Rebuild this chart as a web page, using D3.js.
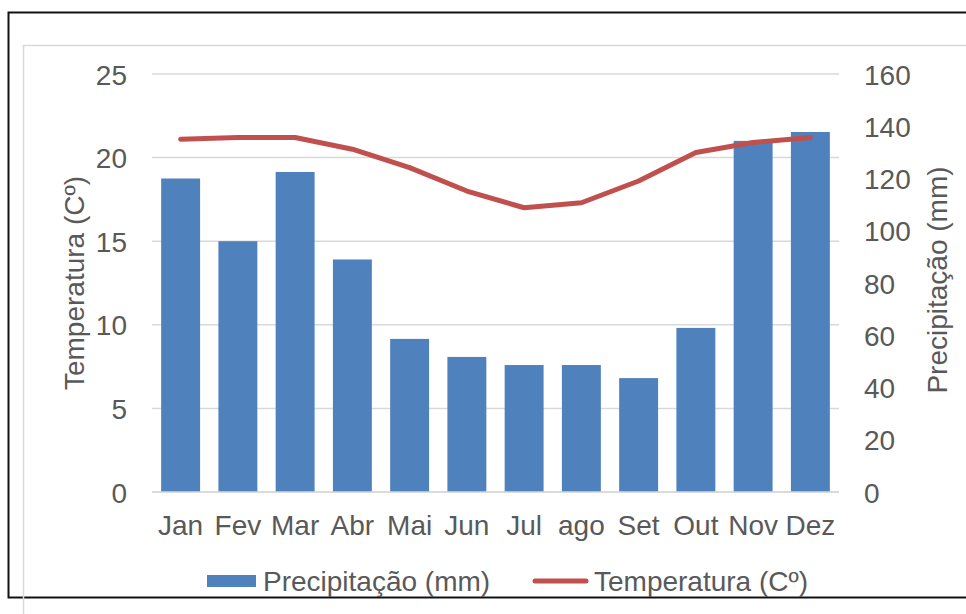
<!DOCTYPE html>
<html>
<head>
<meta charset="utf-8">
<script src="https://cdn.jsdelivr.net/npm/d3@7/dist/d3.min.js"></script>
<style>
  html, body { margin: 0; padding: 0; background: #fff; }
  svg { display: block; }
  text { font-family: "Liberation Sans", Arial, sans-serif; fill: #595959; }
</style>
</head>
<body>
<svg id="chart" width="966" height="614"></svg>
<script>
const months = ["Jan", "Fev", "Mar", "Abr", "Mai", "Jun", "Jul", "ago", "Set", "Out", "Nov", "Dez"];
const precipitacao = [120, 96, 122.5, 89, 58.6, 51.7, 48.6, 48.6, 43.6, 62.8, 134.4, 137.8];
const temperatura = [21.1, 21.2, 21.2, 20.5, 19.4, 18.0, 17.0, 17.3, 18.6, 20.3, 20.9, 21.2];
const tempTicks = [0, 5, 10, 15, 20, 25];
const precTicks = [0, 20, 40, 60, 80, 100, 120, 140, 160];
const leftTitle = "Temperatura (Cº)";
const rightTitle = "Precipitação (mm)";
const legendLabels = ["Precipitação (mm)", "Temperatura (Cº)"];

const barColor = "#4F81BD";
const lineColor = "#C0504D";
const gridColor = "#D9D9D9";
const fs = 28;

const svg = d3.select("#chart");

// outer black frame
svg.append("rect").attr("x", 8.5).attr("y", 12.5).attr("width", 1000).attr("height", 585)
  .attr("fill", "none").attr("stroke", "#111").attr("stroke-width", 2);
// inner gray frame
svg.append("rect").attr("x", 23.5).attr("y", 45.5).attr("width", 1000).attr("height", 600)
  .attr("fill", "none").attr("stroke", gridColor).attr("stroke-width", 1.5);

const plot = { left: 152, right: 839, top: 74, bottom: 492 };

const x = d3.scaleBand().domain(months).range([plot.left, plot.right]).paddingInner(0.32).paddingOuter(0.16);
const yT = d3.scaleLinear().domain([0, 25]).range([plot.bottom, plot.top]);
const yP = d3.scaleLinear().domain([0, 160]).range([plot.bottom, plot.top]);

// gridlines
svg.append("g").selectAll("line").data(tempTicks).join("line")
  .attr("x1", plot.left).attr("x2", plot.right)
  .attr("y1", d => yT(d)).attr("y2", d => yT(d))
  .attr("stroke", gridColor).attr("stroke-width", 1.5);

// bars
svg.append("g").selectAll("rect").data(precipitacao).join("rect")
  .attr("x", (d, i) => x(months[i]))
  .attr("width", x.bandwidth())
  .attr("y", d => yP(d))
  .attr("height", d => yP(0) - yP(d))
  .attr("fill", barColor);

// baseline
svg.append("line").attr("x1", plot.left).attr("x2", plot.right)
  .attr("y1", yT(0)).attr("y2", yT(0)).attr("stroke", gridColor).attr("stroke-width", 1.5);

// line
const line = d3.line()
  .x((d, i) => x(months[i]) + x.bandwidth() / 2)
  .y(d => yT(d));
svg.append("path").datum(temperatura).attr("d", line)
  .attr("fill", "none").attr("stroke", lineColor).attr("stroke-width", 5)
  .attr("stroke-linecap", "round").attr("stroke-linejoin", "round");

// left axis
const leftAxis = d3.axisLeft(yT).tickValues(tempTicks).tickSize(0).tickPadding(0);
const gl = svg.append("g").attr("transform", `translate(127,0)`).call(leftAxis);
gl.select(".domain").remove();
gl.selectAll("text").attr("font-size", fs).attr("fill", "#595959")
  .attr("font-family", "Liberation Sans, Arial, sans-serif").attr("dy", "0.36em");

// right axis
const rightAxis = d3.axisRight(yP).tickValues(precTicks).tickSize(0).tickPadding(0);
const gr = svg.append("g").attr("transform", `translate(864,0)`).call(rightAxis);
gr.select(".domain").remove();
gr.selectAll("text").attr("font-size", fs).attr("fill", "#595959")
  .attr("font-family", "Liberation Sans, Arial, sans-serif").attr("dy", "0.36em");

// bottom axis
const bottomAxis = d3.axisBottom(x).tickSize(0).tickPadding(0);
const gb = svg.append("g").attr("transform", `translate(0,${plot.bottom})`).call(bottomAxis);
gb.select(".domain").remove();
gb.selectAll("text").attr("font-size", fs).attr("fill", "#595959")
  .attr("font-family", "Liberation Sans, Arial, sans-serif").attr("dy", "0").attr("y", 43);

// axis titles
svg.append("text").attr("transform", "translate(84,283) rotate(-90)")
  .attr("text-anchor", "middle").attr("font-size", fs).text(leftTitle);
svg.append("text").attr("transform", "translate(947,280) rotate(-90)")
  .attr("text-anchor", "middle").attr("font-size", fs).text(rightTitle);

// legend
const lg = svg.append("g");
lg.append("rect").attr("x", 207).attr("y", 575).attr("width", 49).attr("height", 12).attr("fill", barColor);
lg.append("text").attr("x", 263).attr("y", 591).attr("font-size", fs).text(legendLabels[0]);
lg.append("line").attr("x1", 535).attr("x2", 586).attr("y1", 581).attr("y2", 581)
  .attr("stroke", lineColor).attr("stroke-width", 5).attr("stroke-linecap", "round");
lg.append("text").attr("x", 594).attr("y", 591).attr("font-size", fs).text(legendLabels[1]);
</script>
</body>
</html>
